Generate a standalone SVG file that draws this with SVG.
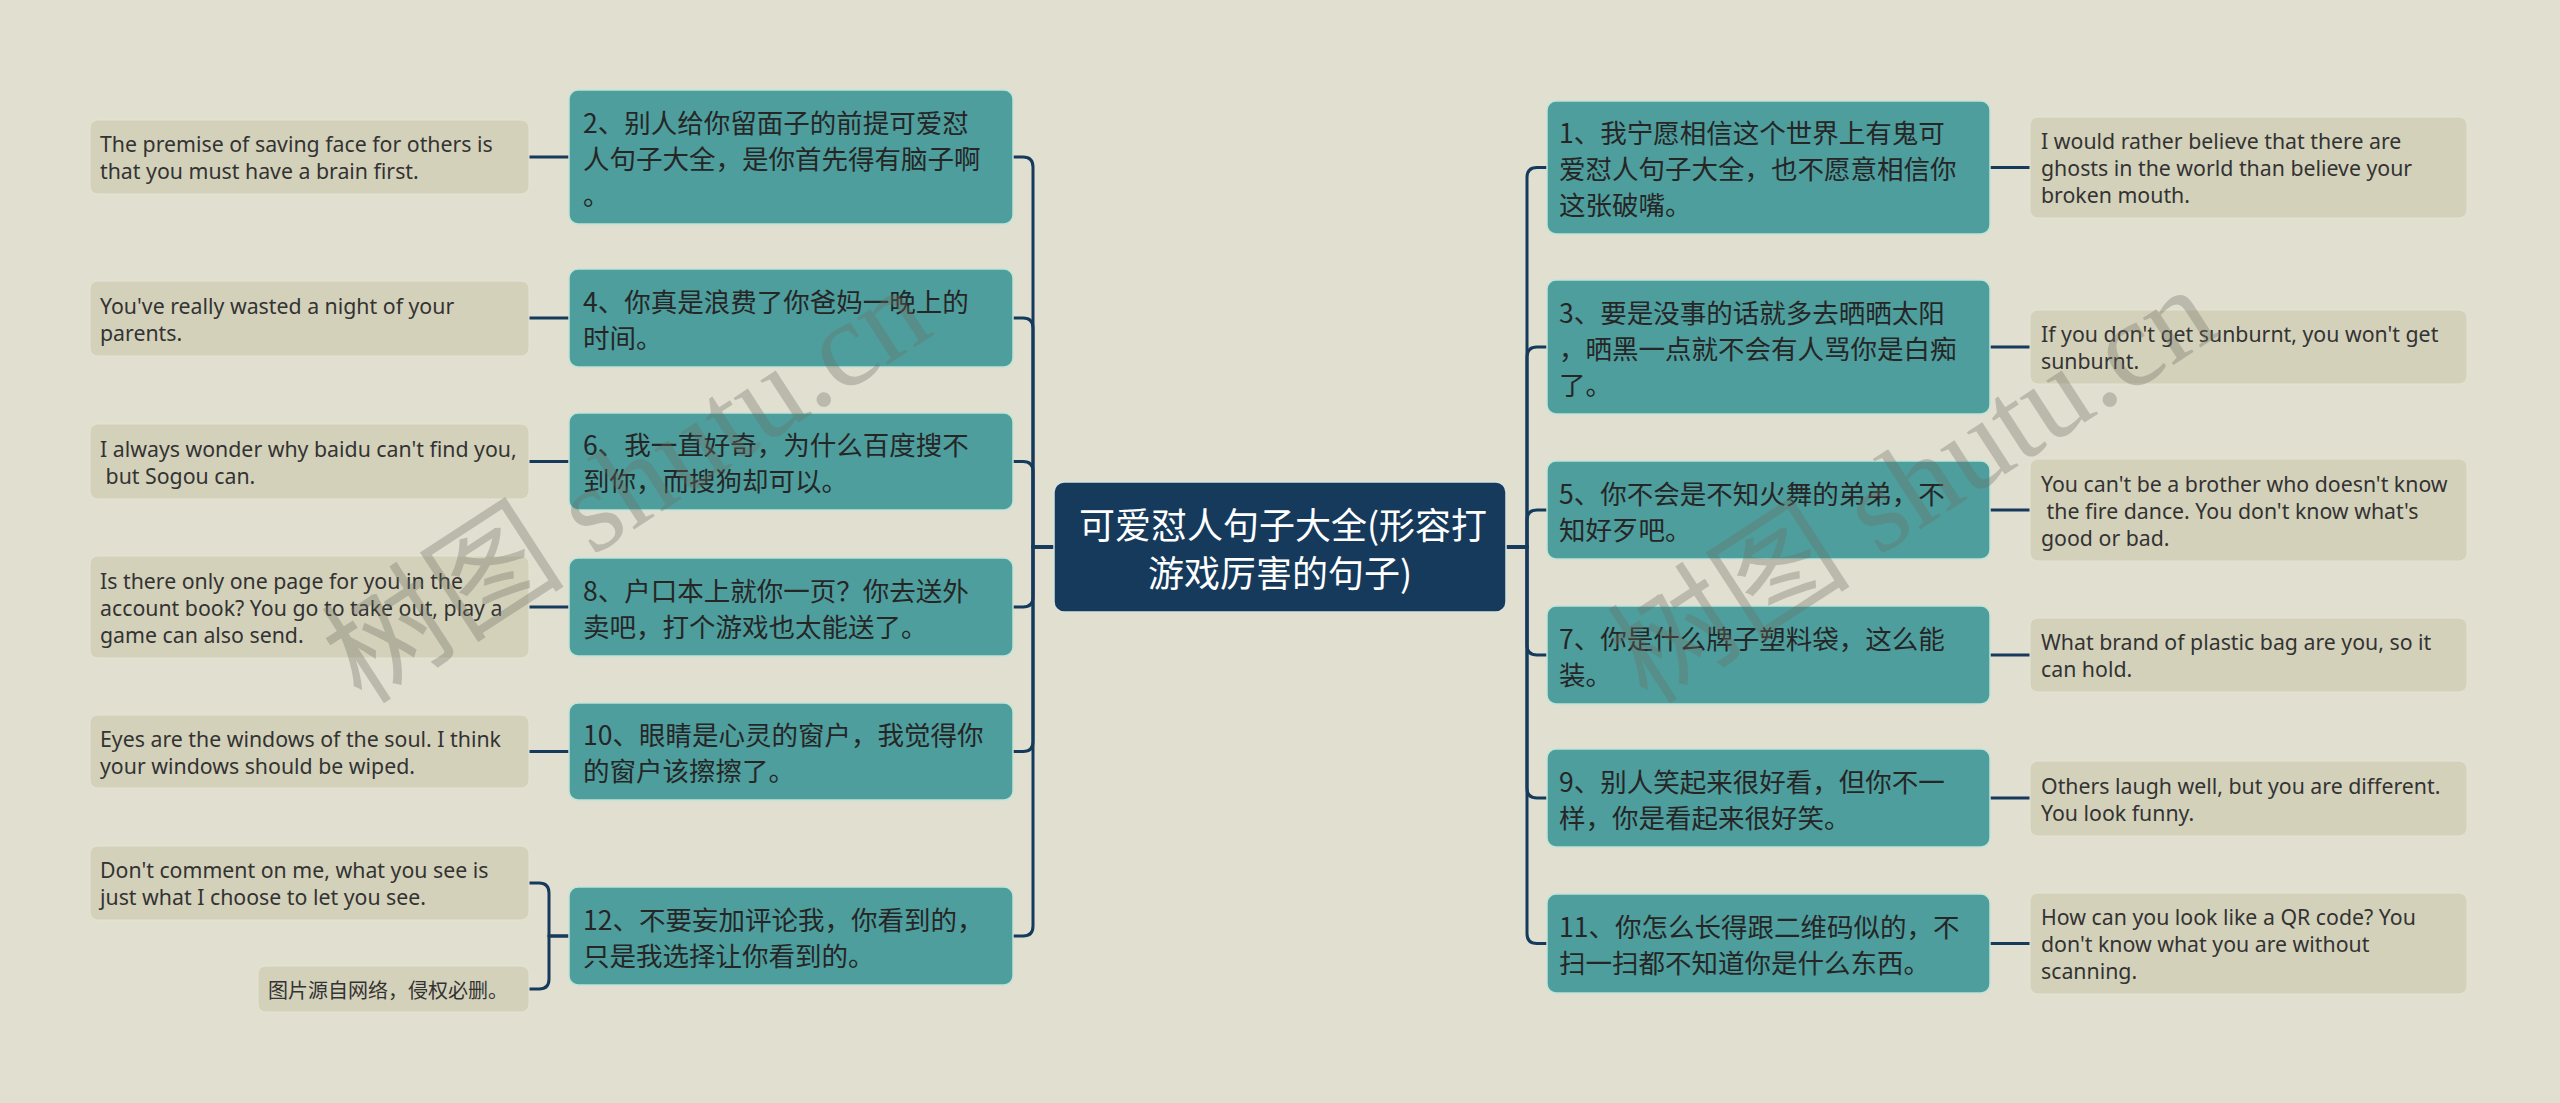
<svg xmlns="http://www.w3.org/2000/svg" width="2560" height="1103" viewBox="0 0 2560 1103">
<style>
.bg{fill:#E0DFD0}
.c{fill:#163A5C;stroke:#d9e3dc;stroke-width:1.5}
.t{fill:#4D9E9D;stroke:#c2e4d6;stroke-width:1.5}
.e{fill:#D3D1BA;stroke:#e4e3d4;stroke-width:1}
.ln{fill:none;stroke:#163A5C;stroke-width:3}
.tt{font-family:"Noto Sans CJK SC","Noto Sans",sans-serif;font-size:26.5px;fill:#262626;dominant-baseline:central}
.et{font-family:"Noto Sans","Open Sans",sans-serif;font-size:21.3px;fill:#333;dominant-baseline:central}
.nt{font-family:"Noto Sans CJK SC","Noto Sans",sans-serif;font-size:20px;fill:#333;dominant-baseline:central}
.ct{font-family:"Noto Sans CJK SC","Noto Sans",sans-serif;font-size:36px;fill:#fff;text-anchor:middle;dominant-baseline:central}
.wm{font-family:"Liberation Serif","Noto Sans CJK SC",serif;font-size:122px;fill:#6f6e62;opacity:.33}
</style>
<rect class="bg" x="0" y="0" width="2560" height="1103"/>

<g id="connectors">
<path class="ln" d="M1054 547H1033V167Q1033 157 1023 157H1013"/>
<path class="ln" d="M1054 547H1033V328Q1033 318 1023 318H1013"/>
<path class="ln" d="M1054 547H1033V471.5Q1033 461.5 1023 461.5H1013"/>
<path class="ln" d="M1054 547H1033V597Q1033 607 1023 607H1013"/>
<path class="ln" d="M1054 547H1033V741.5Q1033 751.5 1023 751.5H1013"/>
<path class="ln" d="M1054 547H1033V926Q1033 936 1023 936H1013"/>
<path class="ln" d="M1506 547H1527V177.5Q1527 167.5 1537 167.5H1547"/>
<path class="ln" d="M1506 547H1527V357Q1527 347 1537 347H1547"/>
<path class="ln" d="M1506 547H1527V520Q1527 510 1537 510H1547"/>
<path class="ln" d="M1506 547H1527V645Q1527 655 1537 655H1547"/>
<path class="ln" d="M1506 547H1527V788Q1527 798 1537 798H1547"/>
<path class="ln" d="M1506 547H1527V933.5Q1527 943.5 1537 943.5H1547"/>
<path class="ln" d="M569 157H529M569 318H529M569 461.5H529M569 607H529M569 751.5H529"/>
<path class="ln" d="M569 936H549V893Q549 883 539 883H529"/>
<path class="ln" d="M569 936H549V979Q549 989 539 989H529"/>
<path class="ln" d="M1990 167.5H2030M1990 347H2030M1990 510H2030M1990 655H2030M1990 798H2030M1990 943.5H2030"/>
</g>

<g id="root">
<rect class="c" x="1054" y="482" width="452" height="130" rx="10"/>
<text class="ct" x="1283" y="523">可爱怼人句子大全(形容打</text>
<text class="ct" x="1280" y="571">游戏厉害的句子)</text>
</g>

<g id="n2"><rect class="t" x="569" y="90" width="444" height="134" rx="9"/>
<text class="tt" x="583" y="121">2、别人给你留面子的前提可爱怼</text>
<text class="tt" x="583" y="157">人句子大全，是你首先得有脑子啊</text>
<text class="tt" x="583" y="193">。</text></g>
<g id="n4"><rect class="t" x="569" y="269" width="444" height="98" rx="9"/>
<text class="tt" x="583" y="300">4、你真是浪费了你爸妈一晚上的</text>
<text class="tt" x="583" y="336">时间。</text></g>
<g id="n6"><rect class="t" x="569" y="413" width="444" height="97" rx="9"/>
<text class="tt" x="583" y="443.5">6、我一直好奇，为什么百度搜不</text>
<text class="tt" x="583" y="479.5">到你，而搜狗却可以。</text></g>
<g id="n8"><rect class="t" x="569" y="558" width="444" height="98" rx="9"/>
<text class="tt" x="583" y="589">8、户口本上就你一页？你去送外</text>
<text class="tt" x="583" y="625">卖吧，打个游戏也太能送了。</text></g>
<g id="n10"><rect class="t" x="569" y="703" width="444" height="97" rx="9"/>
<text class="tt" x="583" y="733.5">10、眼睛是心灵的窗户，我觉得你</text>
<text class="tt" x="583" y="769.5">的窗户该擦擦了。</text></g>
<g id="n12"><rect class="t" x="569" y="887" width="444" height="98" rx="9"/>
<text class="tt" x="583" y="918">12、不要妄加评论我，你看到的，</text>
<text class="tt" x="583" y="954">只是我选择让你看到的。</text></g>

<g id="n1"><rect class="t" x="1547" y="101" width="443" height="133" rx="9"/>
<text class="tt" x="1559" y="131.5">1、我宁愿相信这个世界上有鬼可</text>
<text class="tt" x="1559" y="167.5">爱怼人句子大全，也不愿意相信你</text>
<text class="tt" x="1559" y="203.5">这张破嘴。</text></g>
<g id="n3"><rect class="t" x="1547" y="280" width="443" height="134" rx="9"/>
<text class="tt" x="1559" y="311">3、要是没事的话就多去晒晒太阳</text>
<text class="tt" x="1559" y="347">，晒黑一点就不会有人骂你是白痴</text>
<text class="tt" x="1559" y="383">了。</text></g>
<g id="n5"><rect class="t" x="1547" y="461" width="443" height="98" rx="9"/>
<text class="tt" x="1559" y="492">5、你不会是不知火舞的弟弟，不</text>
<text class="tt" x="1559" y="528">知好歹吧。</text></g>
<g id="n7"><rect class="t" x="1547" y="606" width="443" height="98" rx="9"/>
<text class="tt" x="1559" y="637">7、你是什么牌子塑料袋，这么能</text>
<text class="tt" x="1559" y="673">装。</text></g>
<g id="n9"><rect class="t" x="1547" y="749" width="443" height="98" rx="9"/>
<text class="tt" x="1559" y="780">9、别人笑起来很好看，但你不一</text>
<text class="tt" x="1559" y="816">样，你是看起来很好笑。</text></g>
<g id="n11"><rect class="t" x="1547" y="894" width="443" height="99" rx="9"/>
<text class="tt" x="1559" y="925.5">11、你怎么长得跟二维码似的，不</text>
<text class="tt" x="1559" y="961.5">扫一扫都不知道你是什么东西。</text></g>

<g id="e2"><rect class="e" x="90" y="120" width="439" height="74" rx="8"/>
<text class="et" x="100" y="143.5">The premise of saving face for others is</text>
<text class="et" x="100" y="170.5">that you must have a brain first.</text></g>
<g id="e4"><rect class="e" x="90" y="281" width="439" height="75" rx="8"/>
<text class="et" x="100" y="305">You've really wasted a night of your</text>
<text class="et" x="100" y="332">parents.</text></g>
<g id="e6"><rect class="e" x="90" y="424" width="439" height="75" rx="8"/>
<text class="et" x="100" y="448">I always wonder why baidu can't find you,</text>
<text class="et" x="100" y="475" xml:space="preserve"> but Sogou can.</text></g>
<g id="e8"><rect class="e" x="90" y="556" width="439" height="102" rx="8"/>
<text class="et" x="100" y="580">Is there only one page for you in the</text>
<text class="et" x="100" y="607">account book? You go to take out, play a</text>
<text class="et" x="100" y="634">game can also send.</text></g>
<g id="e10"><rect class="e" x="90" y="715" width="439" height="73" rx="8"/>
<text class="et" x="100" y="738">Eyes are the windows of the soul. I think</text>
<text class="et" x="100" y="765">your windows should be wiped.</text></g>
<g id="e12a"><rect class="e" x="90" y="846" width="439" height="74" rx="8"/>
<text class="et" x="100" y="869.5">Don't comment on me, what you see is</text>
<text class="et" x="100" y="896.5">just what I choose to let you see.</text></g>
<g id="e12b"><rect class="e" x="258" y="966" width="271" height="46" rx="8"/>
<text class="nt" x="268" y="989">图片源自网络，侵权必删。</text></g>

<g id="e1"><rect class="e" x="2030" y="117" width="437" height="101" rx="8"/>
<text class="et" x="2041" y="140.5">I would rather believe that there are</text>
<text class="et" x="2041" y="167.5">ghosts in the world than believe your</text>
<text class="et" x="2041" y="194.5">broken mouth.</text></g>
<g id="e3"><rect class="e" x="2030" y="310" width="437" height="74" rx="8"/>
<text class="et" x="2041" y="333.5">If you don't get sunburnt, you won't get</text>
<text class="et" x="2041" y="360.5">sunburnt.</text></g>
<g id="e5"><rect class="e" x="2030" y="459" width="437" height="102" rx="8"/>
<text class="et" x="2041" y="483">You can't be a brother who doesn't know</text>
<text class="et" x="2041" y="510" xml:space="preserve"> the fire dance. You don't know what's</text>
<text class="et" x="2041" y="537">good or bad.</text></g>
<g id="e7"><rect class="e" x="2030" y="618" width="437" height="74" rx="8"/>
<text class="et" x="2041" y="641.5">What brand of plastic bag are you, so it</text>
<text class="et" x="2041" y="668.5">can hold.</text></g>
<g id="e9"><rect class="e" x="2030" y="761" width="437" height="75" rx="8"/>
<text class="et" x="2041" y="785">Others laugh well, but you are different.</text>
<text class="et" x="2041" y="812">You look funny.</text></g>
<g id="e11"><rect class="e" x="2030" y="893" width="437" height="101" rx="8"/>
<text class="et" x="2041" y="916.5">How can you look like a QR code? You</text>
<text class="et" x="2041" y="943.5">don't know what you are without</text>
<text class="et" x="2041" y="970.5">scanning.</text></g>

<g id="watermark">
<text class="wm" transform="translate(362 706) rotate(-33)">树图 shutu.cn</text>
<text class="wm" transform="translate(1648 706) rotate(-33)">树图 shutu.cn</text>
</g>
</svg>
